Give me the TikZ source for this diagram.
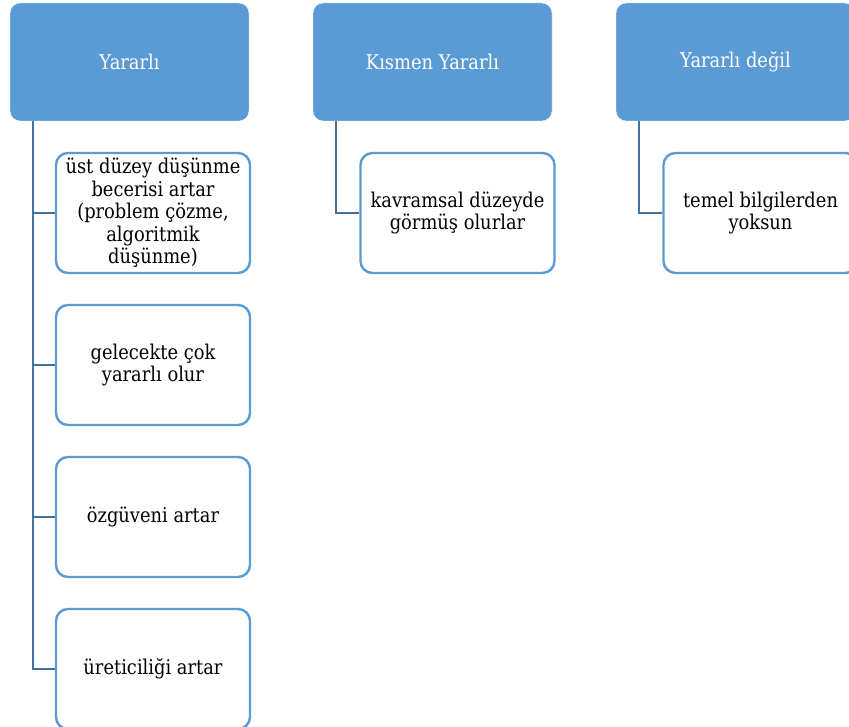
\documentclass[tikz,border=0pt]{standalone}
\usepackage{fontspec}
\setmainfont{DejaVu Serif}[FakeStretch=0.88]
\definecolor{kutumavi}{HTML}{5B9BD5}
\definecolor{cizgimavi}{HTML}{41719C}
\tikzset{
	ustkutu/.style={rectangle,rounded corners=10pt,fill=kutumavi,draw=white,thin,
		minimum width=239pt,minimum height=118pt,text=white,font=\fontsize{20.3}{22}\selectfont},
	altkutu/.style={rectangle,rounded corners=12pt,fill=white,draw=kutumavi,line width=2.4pt,
		minimum width=194pt,minimum height=120pt,inner sep=2pt,align=center,font=\fontsize{20.3}{22.5}\selectfont},
	baglanti/.style={draw=cizgimavi,line width=2.2pt}
}
\begin{document}
\begin{tikzpicture}[x=1pt,y=-1pt]
	\clip (0,0) rectangle (849,727);
	\fill[white] (0,0) rectangle (849,727);

	% ust kutular
	\node[ustkutu] (yararli) at (129.5,62) {Yararlı};
	\node[ustkutu] (kismen) at (432.5,62) {Kısmen Yararlı};
	\node[ustkutu] (degil) at (735.5,62) {Yararlı değil};

	% alt kutular
	\node[altkutu] (y1) at (153,213) {üst düzey düşünme\\becerisi artar\\(problem çözme,\\algoritmik\\düşünme)};
	\node[altkutu] (y2) at (153,365) {gelecekte çok\\yararlı olur};
	\node[altkutu] (y3) at (153,517) {özgüveni artar};
	\node[altkutu] (y4) at (153,669) {üreticiliği artar};
	\node[altkutu] (k1) at (457.5,213) {kavramsal düzeyde\\görmüş olurlar};
	\node[altkutu] (d1) at (760.5,213) {temel bilgilerden\\yoksun};

	% baglantilar
	\foreach \c in {y1,y2,y3,y4}
		\draw[baglanti] ([xshift=23pt]yararli.south west) |- (\c.west);
	\draw[baglanti] ([xshift=23pt]kismen.south west) |- (k1.west);
	\draw[baglanti] ([xshift=23pt]degil.south west) |- (d1.west);
\end{tikzpicture}
\end{document}
